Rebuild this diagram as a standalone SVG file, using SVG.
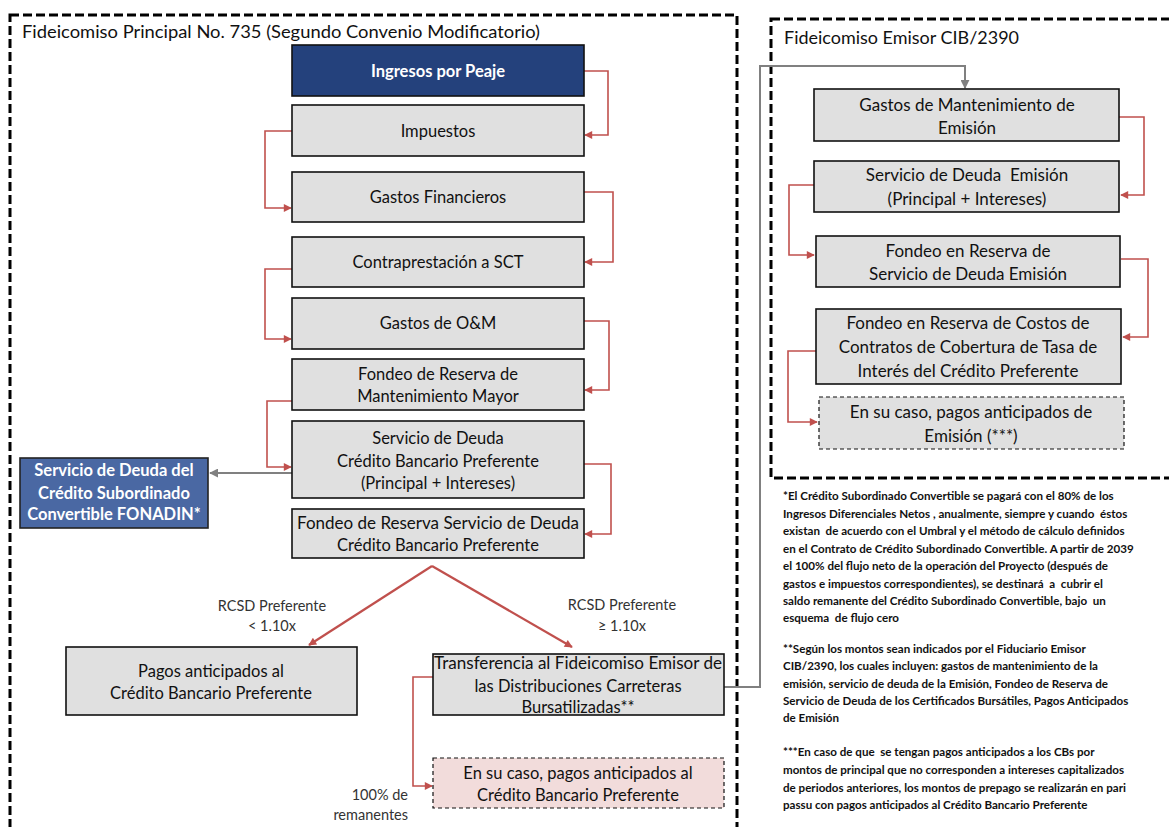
<svg xmlns="http://www.w3.org/2000/svg" width="1169" height="827" viewBox="0 0 1169 827">
<defs>
<marker id="ar" viewBox="0 0 10 10" refX="9" refY="5" markerWidth="9" markerHeight="8" markerUnits="userSpaceOnUse" orient="auto"><path d="M0,0 L10,5 L0,10 z" fill="#c0504d"/></marker>
<marker id="ag" viewBox="0 0 10 10" refX="9" refY="5" markerWidth="9" markerHeight="9" markerUnits="userSpaceOnUse" orient="auto"><path d="M0,0 L10,5 L0,10 z" fill="#808080"/></marker>
</defs>
<style>
text{font-family:Lato,"Liberation Sans",sans-serif;fill:#111}
.box{fill:#e0e0e0;stroke:#111;stroke-width:1.6}
.dbox{stroke:#111;stroke-width:1.2;stroke-dasharray:4 3}
.blue{fill:#24417c;stroke:#111;stroke-width:1.6}
.blue2{fill:#4a68a3;stroke:#222;stroke-width:1.6}
.t{font-size:16.5px;text-anchor:middle}
.tr{font-size:17px;text-anchor:middle}
.w{fill:#fff;font-weight:bold}
.frame{fill:none;stroke:#000;stroke-width:3;stroke-dasharray:9 4}
.red{fill:none;stroke:#c0504d;stroke-width:1.6;marker-end:url(#ar)}
.red2{fill:none;stroke:#c0504d;stroke-width:2.2;marker-end:url(#ar)}
.gray{fill:none;stroke:#808080;stroke-width:2;marker-end:url(#ag)}
.lbl{font-size:14.5px;text-anchor:middle;fill:#333}
.fn{font-size:11.6px;font-weight:bold}
.title{font-size:17px}
</style>

<g id="frame-principal">
<rect class="frame" x="10" y="15" width="727" height="830"/>
<text class="title" x="22" y="38" textLength="518" lengthAdjust="spacingAndGlyphs">Fideicomiso Principal No. 735 (Segundo Convenio Modificatorio)</text>
</g>
<g id="frame-emisor">
<rect class="frame" x="771" y="19" width="420" height="459"/>
<text class="title" x="784" y="44" textLength="235" lengthAdjust="spacingAndGlyphs">Fideicomiso Emisor CIB/2390</text>
</g>

<g id="connectors">
<path class="red" d="M584,71 H608 V135 H585"/>
<path class="red" d="M292,131 H265 V208 H291"/>
<path class="red" d="M584,192 H613 V262 H585"/>
<path class="red" d="M292,269 H265 V339 H291"/>
<path class="red" d="M584,321 H609 V390 H585"/>
<path class="red" d="M292,401 H267 V467 H291"/>
<path class="red" d="M584,464 H611 V534 H585"/>
<path class="gray" d="M292,473 H210"/>
<path class="red2" d="M432,566 L309,645"/>
<path class="red2" d="M432,566 L572,647"/>
<path class="red" d="M433,677 H413 V786 H432"/>
<path class="gray" d="M724,687 H760 V66 H965 V88"/>
<path class="red" d="M1119,117 H1144 V195 H1121"/>
<path class="red" d="M814,185 H789 V255 H814"/>
<path class="red" d="M1121,259 H1148 V337 H1123"/>
<path class="red" d="M816,351 H788 V422 H817"/>
</g>

<g id="n-ingresos">
<rect class="blue" x="292" y="45" width="292" height="51"/>
<text class="t w" x="438" y="77">Ingresos por Peaje</text>
</g>
<g id="n-impuestos">
<rect class="box" x="292" y="105" width="292" height="51"/>
<text class="t" x="438" y="137">Impuestos</text>
</g>
<g id="n-gastosfin">
<rect class="box" x="292" y="172" width="292" height="50"/>
<text class="t" x="438" y="203">Gastos Financieros</text>
</g>
<g id="n-sct">
<rect class="box" x="292" y="237" width="292" height="50"/>
<text class="t" x="438" y="268">Contraprestación a SCT</text>
</g>
<g id="n-om">
<rect class="box" x="292" y="298" width="292" height="51"/>
<text class="t" x="438" y="329">Gastos de O&amp;M</text>
</g>
<g id="n-mant">
<rect class="box" x="292" y="359" width="292" height="51"/>
<text class="t" x="438" y="380">Fondeo de Reserva de</text>
<text class="t" x="438" y="402">Mantenimiento Mayor</text>
</g>
<g id="n-servicio">
<rect class="box" x="292" y="421" width="292" height="77"/>
<text class="t" x="438" y="444">Servicio de Deuda</text>
<text class="t" x="438" y="467">Crédito Bancario Preferente</text>
<text class="t" x="438" y="489">(Principal + Intereses)</text>
</g>
<g id="n-fondeo-sd">
<rect class="box" x="292" y="509" width="292" height="49"/>
<text class="t" x="438" y="529" textLength="282" lengthAdjust="spacingAndGlyphs">Fondeo de Reserva Servicio de Deuda</text>
<text class="t" x="438" y="551">Crédito Bancario Preferente</text>
</g>
<g id="n-subordinado">
<rect class="blue2" x="20" y="458" width="188" height="70"/>
<text class="t w" x="114" y="476">Servicio de Deuda del</text>
<text class="t w" x="114" y="499">Crédito Subordinado</text>
<text class="t w" x="114" y="520">Convertible FONADIN*</text>
</g>

<g id="labels">
<text class="lbl" x="272" y="611">RCSD Preferente</text>
<text class="lbl" x="272" y="631">&lt; 1.10x</text>
<text class="lbl" x="622" y="610">RCSD Preferente</text>
<text class="lbl" x="622" y="631">≥ 1.10x</text>
<text class="lbl" x="408" y="800" style="text-anchor:end">100% de</text>
<text class="lbl" x="408" y="820" style="text-anchor:end">remanentes</text>
</g>

<g id="n-pagos">
<rect class="box" x="66" y="647" width="291" height="68"/>
<text class="t" x="211" y="677">Pagos anticipados al</text>
<text class="t" x="211" y="699">Crédito Bancario Preferente</text>
</g>
<g id="n-transferencia">
<rect class="box" x="433" y="654" width="291" height="61"/>
<text class="t" x="578" y="669" textLength="288" lengthAdjust="spacingAndGlyphs">Transferencia al Fideicomiso Emisor de</text>
<text class="t" x="578" y="692">las Distribuciones Carreteras</text>
<text class="t" x="578" y="713">Bursatilizadas**</text>
</g>
<g id="n-ensucaso-cbp">
<rect class="dbox" x="433" y="758" width="291" height="50" fill="#f2dcdb"/>
<text class="t" x="578" y="779">En su caso, pagos anticipados al</text>
<text class="t" x="578" y="801">Crédito Bancario Preferente</text>
</g>

<g id="n-gastos-mant-em">
<rect class="box" x="814" y="89" width="305" height="52"/>
<text class="tr" x="967" y="111">Gastos de Mantenimiento de</text>
<text class="tr" x="967" y="134">Emisión</text>
</g>
<g id="n-servicio-em">
<rect class="box" x="814" y="161" width="305" height="51"/>
<text class="tr" x="967" y="181" xml:space="preserve">Servicio de Deuda  Emisión</text>
<text class="tr" x="967" y="205">(Principal + Intereses)</text>
</g>
<g id="n-fondeo-em">
<rect class="box" x="816" y="236" width="304" height="51"/>
<text class="tr" x="968" y="257">Fondeo en Reserva de</text>
<text class="tr" x="968" y="280">Servicio de Deuda Emisión</text>
</g>
<g id="n-costos-em">
<rect class="box" x="816" y="309" width="305" height="75"/>
<text class="tr" x="968" y="329">Fondeo en Reserva de Costos de</text>
<text class="tr" x="968" y="353">Contratos de Cobertura de Tasa de</text>
<text class="tr" x="968" y="377">Interés del Crédito Preferente</text>
</g>
<g id="n-ensucaso-em">
<rect class="dbox" x="819" y="397" width="305" height="52" fill="#e0e0e0"/>
<text class="tr" x="971" y="418">En su caso, pagos anticipados de</text>
<text class="tr" x="971" y="442">Emisión (***)</text>
</g>

<g id="footnotes">
<text class="fn" x="783" y="500">*El Crédito Subordinado Convertible se pagará con el 80% de los</text>
<text class="fn" x="783" y="518" xml:space="preserve">Ingresos Diferenciales Netos , anualmente, siempre y cuando  éstos</text>
<text class="fn" x="783" y="535" xml:space="preserve">existan  de acuerdo con el Umbral y el método de cálculo definidos</text>
<text class="fn" x="783" y="553">en el Contrato de Crédito Subordinado Convertible. A partir de 2039</text>
<text class="fn" x="783" y="570">el 100% del flujo neto de la operación del Proyecto (después de</text>
<text class="fn" x="783" y="588" xml:space="preserve">gastos e impuestos correspondientes), se destinará  a  cubrir el</text>
<text class="fn" x="783" y="605" xml:space="preserve">saldo remanente del Crédito Subordinado Convertible, bajo  un</text>
<text class="fn" x="783" y="622" xml:space="preserve">esquema  de flujo cero</text>
<text class="fn" x="783" y="653">**Según los montos sean indicados por el Fiduciario Emisor</text>
<text class="fn" x="783" y="670">CIB/2390, los cuales incluyen: gastos de mantenimiento de la</text>
<text class="fn" x="783" y="688">emisión, servicio de deuda de la Emisión, Fondeo de Reserva de</text>
<text class="fn" x="783" y="705">Servicio de Deuda de los Certificados Bursátiles, Pagos Anticipados</text>
<text class="fn" x="783" y="722">de Emisión</text>
<text class="fn" x="783" y="756" xml:space="preserve">***En caso de que  se tengan pagos anticipados a los CBs por</text>
<text class="fn" x="783" y="774">montos de principal que no corresponden a intereses capitalizados</text>
<text class="fn" x="783" y="792">de periodos anteriores, los montos de prepago se realizarán en pari</text>
<text class="fn" x="783" y="809">passu con pagos anticipados al Crédito Bancario Preferente</text>
</g>
</svg>
